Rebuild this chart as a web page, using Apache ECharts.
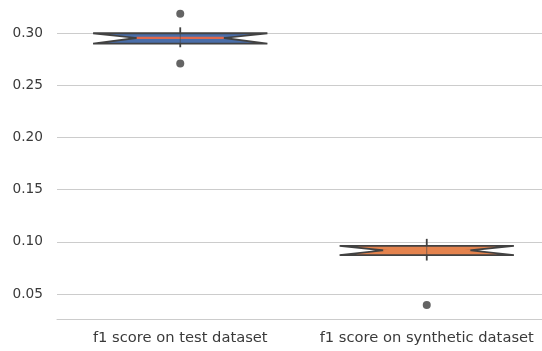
<!DOCTYPE html>
<html>
<head>
<meta charset="utf-8">
<script src="https://cdn.jsdelivr.net/npm/echarts@6/dist/echarts.min.js"></script>
<style>
  html, body { margin: 0; padding: 0; background: #fff; overflow: hidden; }
  #chart { width: 550px; height: 351px; }
</style>
</head>
<body>
<div id="chart"></div>
<script>
var categories = ['f1 score on test dataset', 'f1 score on synthetic dataset'];
var whiskerLow = [0.2866, 0.0821];
var q1 = [0.2900, 0.0873];
var median = [0.2955, 0.0919];
var q3 = [0.3000, 0.0962];
var whiskerHigh = [0.3057, 0.1029];
var outliers = [[0, 0.3188], [0, 0.2710], [1, 0.0395]];
var yTicks = [0.05, 0.10, 0.15, 0.20, 0.25, 0.30];

var boxColors = ['#4a6ea9', '#e4834e'];
var medianColors = ['#e0694c', '#e4834e'];
var edge = '#424242';

var boxData = categories.map(function (c, i) {
    return [i, whiskerLow[i], q1[i], median[i], q3[i], whiskerHigh[i]];
});

function renderBox(params, api) {
    var i = api.value(0);
    var band = api.size([1, 0])[0];
    var half = band * 0.707 / 2;
    var waist = half / 2;
    var lo = api.coord([i, api.value(1)]);
    var b1 = api.coord([i, api.value(2)]);
    var md = api.coord([i, api.value(3)]);
    var b3 = api.coord([i, api.value(4)]);
    var hi = api.coord([i, api.value(5)]);
    var x = md[0];
    return {
        type: 'group',
        children: [{
            type: 'polygon',
            shape: {
                points: [
                    [x - half, b1[1]], [x - waist, md[1]], [x - half, b3[1]],
                    [x + half, b3[1]], [x + waist, md[1]], [x + half, b1[1]]
                ]
            },
            style: { fill: boxColors[i], stroke: edge, lineWidth: 1.8 }
        }, {
            type: 'line',
            shape: { x1: x - waist, y1: md[1], x2: x + waist, y2: md[1] },
            style: { stroke: medianColors[i], lineWidth: 2.2 }
        }, {
            type: 'line',
            shape: { x1: x, y1: hi[1], x2: x, y2: b3[1] },
            style: { stroke: edge, lineWidth: 1.8 }
        }, {
            type: 'line',
            shape: { x1: x, y1: lo[1], x2: x, y2: b1[1] },
            style: { stroke: edge, lineWidth: 1.8 }
        }, {
            type: 'line',
            shape: { x1: x, y1: b3[1], x2: x, y2: b1[1] },
            style: { stroke: edge, lineWidth: 1, opacity: 0.6 }
        }]
    };
}

var myChart = echarts.init(document.getElementById('chart'));
var option = {
    animation: false,
    grid: { left: 57, right: 0, top: 0, bottom: 32 },
    xAxis: {
        type: 'category',
        data: categories,
        axisLine: { show: true, lineStyle: { color: '#cccccc', width: 1 } },
        axisTick: { show: false },
        axisLabel: { interval: 0, color: '#3a3a3a', fontSize: 14.7, fontFamily: 'DejaVu Sans', margin: 12 },
        splitLine: { show: false }
    },
    yAxis: {
        type: 'value',
        min: 0.02605,
        max: 0.3319,
        axisLine: { show: false },
        axisTick: { show: false, customValues: yTicks },
        axisLabel: {
            customValues: yTicks,
            color: '#3a3a3a', fontSize: 13.7, fontFamily: 'DejaVu Sans', margin: 14,
            formatter: function (v) { return v.toFixed(2); }
        },
        splitLine: { show: true, lineStyle: { color: '#cccccc', width: 1 } }
    },
    series: [{
        type: 'custom',
        renderItem: renderBox,
        data: boxData,
        encode: { x: 0, y: [1, 2, 3, 4, 5] },
        z: 3
    }, {
        type: 'scatter',
        data: outliers,
        symbolSize: 8,
        itemStyle: { color: '#3d3d3d' },
        z: 4
    }]
};
myChart.setOption(option);
</script>
</body>
</html>
